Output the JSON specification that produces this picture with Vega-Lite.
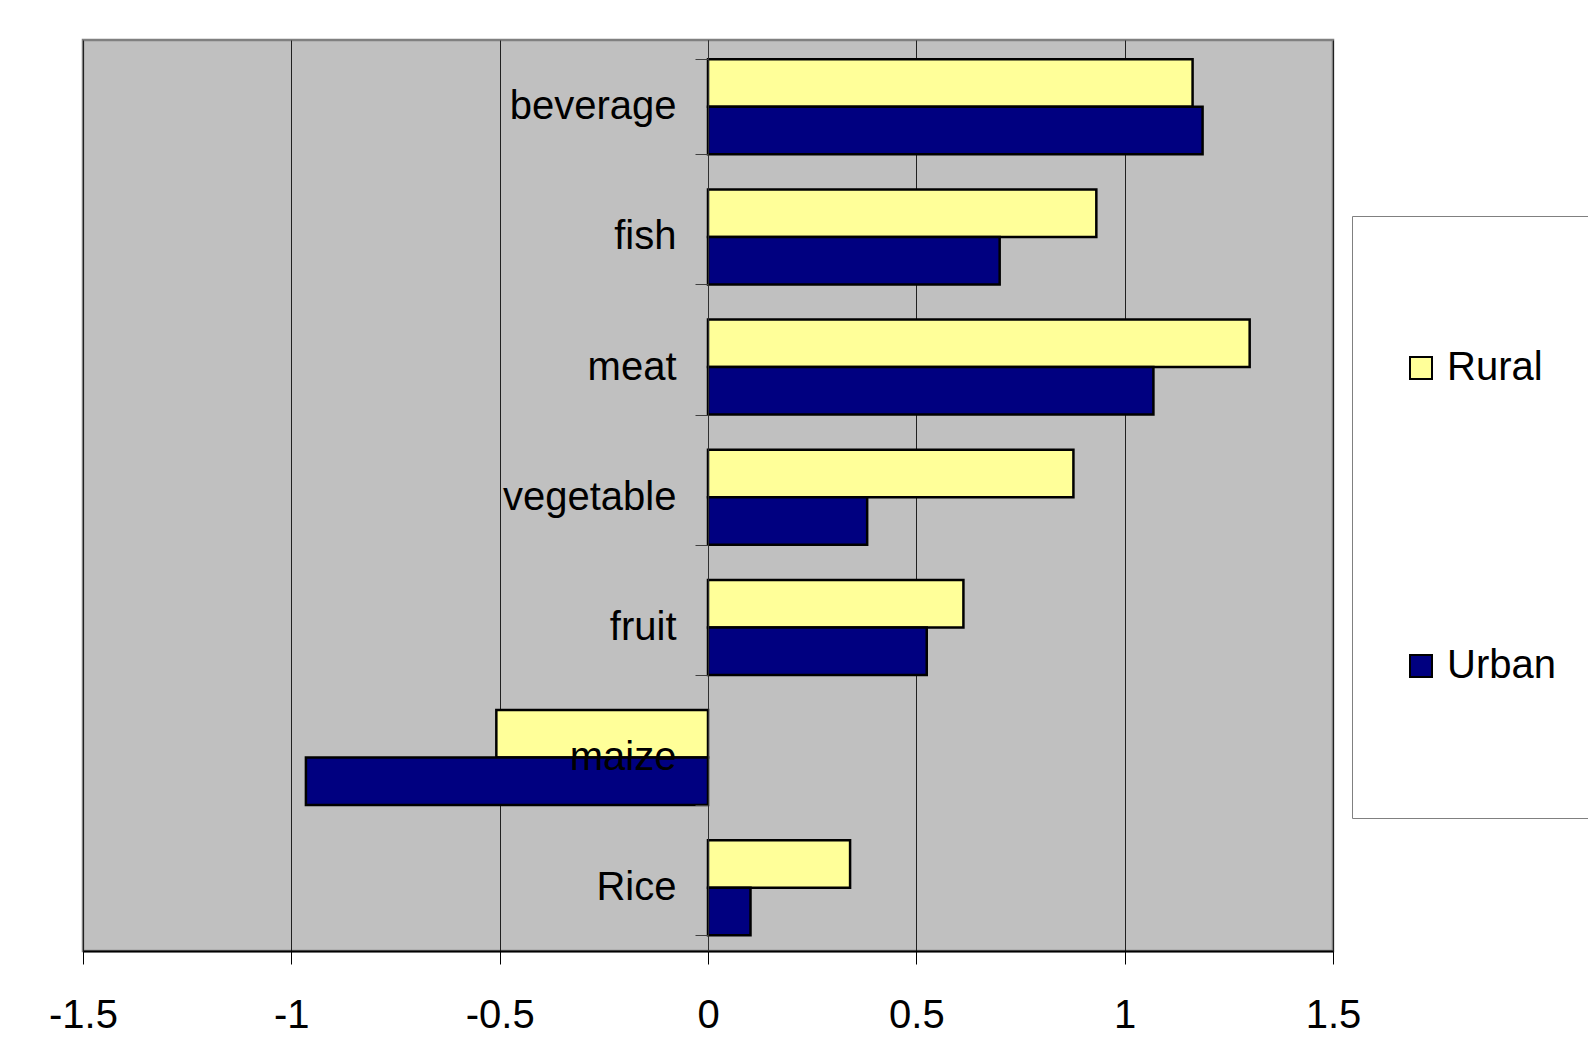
{
  "$schema": "https://vega.github.io/schema/vega-lite/v6.json",
  "width": 1250,
  "height": 911,
  "autosize": {"type": "none"},
  "padding": {"left": 83, "top": 40, "right": 255, "bottom": 97},
  "background": "white",
  "config": {
    "view": {"fill": "#C0C0C0", "stroke": "#808080", "strokeWidth": 2.5},
    "font": "Liberation Sans"
  },
  "data": {
    "values": [
      {"food": "beverage", "area": "Rural", "value": 1.163},
      {"food": "beverage", "area": "Urban", "value": 1.187},
      {"food": "fish", "area": "Rural", "value": 0.932},
      {"food": "fish", "area": "Urban", "value": 0.700},
      {"food": "meat", "area": "Rural", "value": 1.300},
      {"food": "meat", "area": "Urban", "value": 1.069},
      {"food": "vegetable", "area": "Rural", "value": 0.877},
      {"food": "vegetable", "area": "Urban", "value": 0.382},
      {"food": "fruit", "area": "Rural", "value": 0.613},
      {"food": "fruit", "area": "Urban", "value": 0.525},
      {"food": "maize", "area": "Rural", "value": -0.508},
      {"food": "maize", "area": "Urban", "value": -0.965},
      {"food": "Rice", "area": "Rural", "value": 0.341},
      {"food": "Rice", "area": "Urban", "value": 0.102}
    ]
  },
  "mark": {"type": "bar", "stroke": "black", "strokeWidth": 2.5},
  "encoding": {
    "y": {
      "field": "food",
      "type": "nominal",
      "sort": ["beverage", "fish", "meat", "vegetable", "fruit", "maize", "Rice"],
      "scale": {"paddingInner": 0.27, "paddingOuter": 0.135, "align": 0.55},
      "axis": {
        "title": null,
        "orient": "left",
        "offset": -625,
        "zindex": 1,
        "tickBand": "extent",
        "tickSize": 13,
        "tickColor": "#404040",
        "tickWidth": 1,
        "domainColor": "#303030",
        "domainWidth": 1,
        "labelFontSize": 40,
        "labelFont": "Liberation Sans",
        "labelColor": "black",
        "labelPadding": 19,
        "labelLimit": 400,
        "grid": false
      }
    },
    "yOffset": {
      "field": "area",
      "type": "nominal",
      "sort": ["Rural", "Urban"],
      "scale": {"paddingInner": 0, "paddingOuter": 0}
    },
    "x": {
      "field": "value",
      "type": "quantitative",
      "scale": {"domain": [-1.5, 1.5], "nice": false, "zero": false},
      "axis": {
        "title": null,
        "values": [-1.5, -1, -0.5, 0, 0.5, 1, 1.5],
        "labelExpr": "toString(datum.value)",
        "grid": true,
        "gridColor": "#202020",
        "gridWidth": 1,
        "gridOpacity": 1,
        "domainColor": "black",
        "domainWidth": 2,
        "tickColor": "black",
        "tickSize": 13,
        "tickWidth": 1,
        "labelFontSize": 40,
        "labelFont": "Liberation Sans",
        "labelColor": "black",
        "labelPadding": 31,
        "labelFlush": false,
        "labelOverlap": false
      }
    },
    "color": {
      "field": "area",
      "type": "nominal",
      "sort": ["Rural", "Urban"],
      "scale": {"domain": ["Rural", "Urban"], "range": ["#FFFF99", "#000080"]},
      "legend": {
        "title": null,
        "orient": "none",
        "legendX": 1269,
        "legendY": 176,
        "fillColor": "white",
        "strokeColor": "#808080",
        "padding": 57,
        "clipHeight": 190,
        "symbolType": "square",
        "symbolSize": 484,
        "symbolStrokeColor": "black",
        "symbolStrokeWidth": 2,
        "symbolOffset": -8,
        "labelOffset": 6,
        "labelFontSize": 40,
        "labelFont": "Liberation Sans",
        "labelColor": "black",
        "labelLimit": 400,
        "rowPadding": 108
      }
    }
  }
}
